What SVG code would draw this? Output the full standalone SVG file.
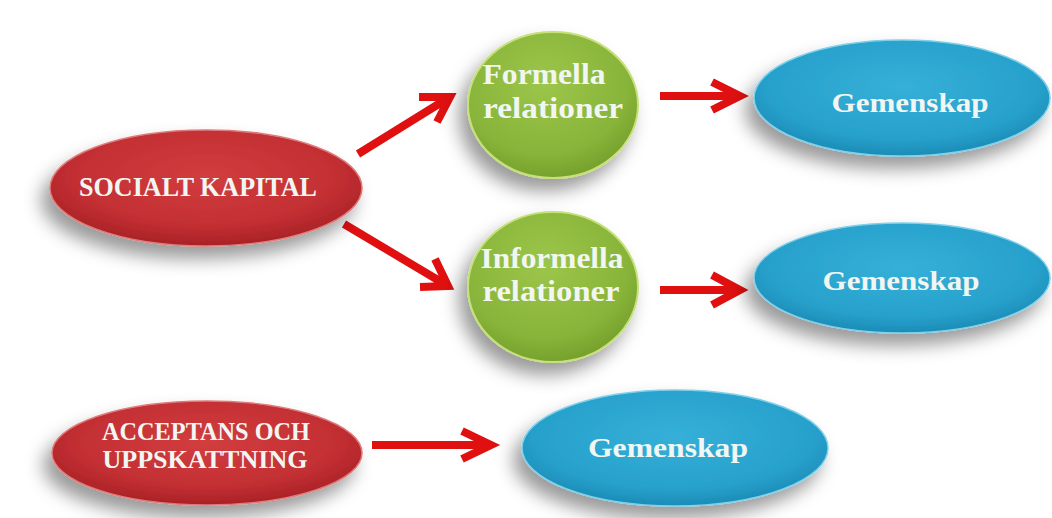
<svg xmlns="http://www.w3.org/2000/svg" width="1052" height="518" viewBox="0 0 1052 518">
  <defs>
    <radialGradient id="gRed" cx="0.5" cy="0.4" r="0.6">
      <stop offset="0" stop-color="#d23d3f"/>
      <stop offset="0.7" stop-color="#c32f33"/>
      <stop offset="1" stop-color="#a82226"/>
    </radialGradient>
    <radialGradient id="gGreen" cx="0.45" cy="0.35" r="0.65">
      <stop offset="0" stop-color="#9cc64a"/>
      <stop offset="0.75" stop-color="#88b43a"/>
      <stop offset="1" stop-color="#76a12c"/>
    </radialGradient>
    <radialGradient id="gBlue" cx="0.5" cy="0.4" r="0.6">
      <stop offset="0" stop-color="#35b0d8"/>
      <stop offset="0.75" stop-color="#27a1cc"/>
      <stop offset="1" stop-color="#1b8cb6"/>
    </radialGradient>
    <filter id="shadow" x="-30%" y="-30%" width="160%" height="170%">
      <feDropShadow dx="-8" dy="12" stdDeviation="9" flood-color="#000" flood-opacity="0.4"/>
    </filter>
  </defs>
  <style>
    .red { fill: url(#gRed); stroke: #e07a7a; stroke-width: 1.5; filter: url(#shadow); }
    .green { fill: url(#gGreen); stroke: #c6e07a; stroke-width: 2; filter: url(#shadow); }
    .blue { fill: url(#gBlue); stroke: #7fd0ea; stroke-width: 1.5; filter: url(#shadow); }
    .label { font-family: "Liberation Serif", "DejaVu Serif", serif; font-weight: bold; fill: #f2f6f2; text-anchor: middle; }
    .arrow { fill: none; stroke: #e01010; stroke-width: 8; stroke-linejoin: miter; stroke-linecap: butt; }
  </style>
  <rect width="1052" height="518" fill="#ffffff"/>

  <g id="connectors">
    <path class="arrow" d="M358 154 L450 97 M419 97 L450 97 L437 122"/>
    <path class="arrow" d="M344 224 L448 286 M420 287 L448 286 L435 259"/>
    <path class="arrow" d="M660 96 L740 96 M712 82 L740 96 L712 110"/>
    <path class="arrow" d="M660 290 L740 290 M712 275 L740 290 L712 305"/>
    <path class="arrow" d="M372 445 L491 445 M462 431 L491 445 L462 459"/>
  </g>

  <g id="socialt-kapital">
    <ellipse class="red" cx="206" cy="188" rx="156" ry="58"/>
    <text class="label" x="198" y="196" font-size="27" textLength="238" lengthAdjust="spacingAndGlyphs">SOCIALT KAPITAL</text>
  </g>

  <g id="formella-relationer">
    <ellipse class="green" cx="553" cy="105" rx="85" ry="73"/>
    <text class="label" x="544" y="84" font-size="30" textLength="123" lengthAdjust="spacingAndGlyphs">Formella</text>
    <text class="label" x="553" y="118" font-size="30" textLength="140" lengthAdjust="spacingAndGlyphs">relationer</text>
  </g>

  <g id="informella-relationer">
    <ellipse class="green" cx="553" cy="287" rx="85" ry="75"/>
    <text class="label" x="552" y="268" font-size="30" textLength="143" lengthAdjust="spacingAndGlyphs">Informella</text>
    <text class="label" x="551" y="301" font-size="30" textLength="137" lengthAdjust="spacingAndGlyphs">relationer</text>
  </g>

  <g id="gemenskap-1">
    <ellipse class="blue" cx="902" cy="98" rx="148" ry="58"/>
    <text class="label" x="910" y="112" font-size="27" textLength="157" lengthAdjust="spacingAndGlyphs">Gemenskap</text>
  </g>

  <g id="gemenskap-2">
    <ellipse class="blue" cx="902" cy="278" rx="148" ry="55"/>
    <text class="label" x="901" y="290" font-size="27" textLength="157" lengthAdjust="spacingAndGlyphs">Gemenskap</text>
  </g>

  <g id="acceptans-och-uppskattning">
    <ellipse class="red" cx="207" cy="453" rx="155" ry="52"/>
    <text class="label" x="206" y="440" font-size="26" textLength="208" lengthAdjust="spacingAndGlyphs">ACCEPTANS OCH</text>
    <text class="label" x="205" y="468" font-size="26" textLength="205" lengthAdjust="spacingAndGlyphs">UPPSKATTNING</text>
  </g>

  <g id="gemenskap-3">
    <ellipse class="blue" cx="675" cy="448" rx="153" ry="58"/>
    <text class="label" x="668" y="457" font-size="27" textLength="160" lengthAdjust="spacingAndGlyphs">Gemenskap</text>
  </g>
</svg>
